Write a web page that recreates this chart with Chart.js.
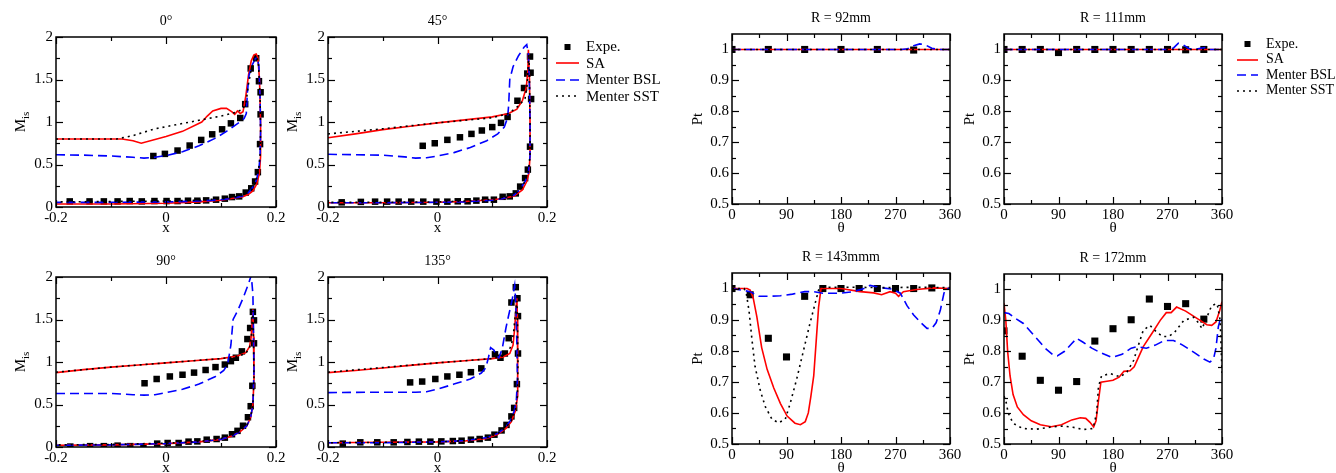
<!DOCTYPE html>
<html lang="en">
<head>
<meta charset="UTF-8">
<title>Mis and Pt distributions</title>
<script src="https://cdn.jsdelivr.net/npm/chart.js"></script>
<style>
    body {
        margin: 0;
        width: 1336px;
        height: 473px;
        overflow: hidden;
        background: #fff;
        position: relative;
        font-family: 'Liberation Serif', 'DejaVu Serif', serif;
    }
    .panel { position: absolute; }
    .legend { position: absolute; color: #000; }
    .legend .row { position: absolute; left: 0; white-space: nowrap; }
    .legend svg { position: absolute; left: 0; }
    .legend span { position: absolute; }
</style>
</head>
<body>
<script>
// ---- axis ticks ----
const xTicksM = [-0.2, 0, 0.2];
const xMinorM = [-0.1, 0.1];
const yTicksM = [0, 0.5, 1, 1.5, 2];
const yMinorM = [0.25, 0.75, 1.25, 1.75];
const thetaTicks = [0, 90, 180, 270, 360];
const thetaMinor = [45, 135, 225, 315];
const ptTicks = [0.5, 0.6, 0.7, 0.8, 0.9, 1];
const ptMinor = [0.55, 0.65, 0.75, 0.85, 0.95];

const seriesNames = ['Expe.', 'SA', 'Menter BSL', 'Menter SST'];

// ---- Mis, 0 deg ----
const m0Expe = [[-0.023,0.60],[-0.002,0.625],[0.021,0.664],[0.043,0.723],[0.064,0.789],[0.084,0.855],[0.102,0.914],[0.118,0.984],[0.135,1.047],[0.144,1.21],[0.154,1.63],[0.164,1.75],[0.169,1.48],[0.172,1.35],[0.172,1.09],[0.171,0.74],[0.167,0.41],[0.162,0.30],[0.155,0.22],[0.145,0.17],[0.133,0.125],[0.120,0.117],[0.107,0.098],[0.091,0.086],[0.073,0.078],[0.057,0.074],[0.040,0.074],[0.021,0.07],[0.001,0.07],[-0.021,0.07],[-0.044,0.066],[-0.066,0.07],[-0.088,0.066],[-0.113,0.066],[-0.139,0.066],[-0.175,0.066]];
const m0SA = [[-0.2,0.80],[-0.08,0.80],[-0.06,0.78],[-0.045,0.75],[0.0,0.83],[0.03,0.89],[0.065,1.0],[0.075,1.07],[0.085,1.13],[0.1,1.16],[0.11,1.16],[0.12,1.12],[0.125,1.09],[0.13,1.13],[0.135,1.10],[0.14,1.12],[0.145,1.3],[0.15,1.55],[0.155,1.72],[0.16,1.79],[0.164,1.80],[0.167,1.76],[0.17,1.5],[0.172,1.0],[0.172,0.6],[0.17,0.4],[0.165,0.27],[0.158,0.19],[0.15,0.15],[0.14,0.12],[0.12,0.1],[0.1,0.08],[0.06,0.06],[0.0,0.045],[-0.1,0.035],[-0.2,0.035]];
const m0BSL = [[-0.2,0.615],[-0.15,0.61],[-0.1,0.6],[-0.06,0.585],[-0.04,0.575],[-0.02,0.585],[0.0,0.605],[0.03,0.65],[0.06,0.72],[0.09,0.81],[0.11,0.89],[0.13,0.98],[0.142,1.04],[0.146,1.1],[0.148,1.35],[0.151,1.55],[0.156,1.66],[0.162,1.74],[0.166,1.76],[0.169,1.65],[0.171,1.3],[0.172,0.9],[0.171,0.6],[0.169,0.45],[0.165,0.33],[0.16,0.25],[0.15,0.17],[0.14,0.13],[0.12,0.1],[0.1,0.085],[0.06,0.07],[0.0,0.06],[-0.1,0.055],[-0.2,0.055]];
const m0SST = [[-0.2,0.80],[-0.09,0.80],[-0.06,0.84],[-0.02,0.92],[0.02,0.97],[0.06,1.02],[0.1,1.07],[0.125,1.11],[0.14,1.15],[0.146,1.25],[0.15,1.45],[0.155,1.62],[0.161,1.74],[0.165,1.76],[0.168,1.7],[0.171,1.3],[0.172,0.9],[0.171,0.6],[0.168,0.42],[0.163,0.3],[0.155,0.2],[0.14,0.14],[0.12,0.11],[0.1,0.095],[0.05,0.08],[0.0,0.07],[-0.1,0.065],[-0.2,0.06]];

// ---- Mis, 45 deg ----
const m45Expe = [[-0.027,0.72],[-0.005,0.75],[0.018,0.79],[0.041,0.82],[0.062,0.86],[0.081,0.90],[0.10,0.94],[0.116,0.99],[0.128,1.06],[0.146,1.25],[0.158,1.40],[0.164,1.57],[0.169,1.77],[0.17,1.58],[0.171,1.27],[0.169,0.71],[0.165,0.44],[0.16,0.34],[0.151,0.24],[0.143,0.16],[0.132,0.125],[0.119,0.12],[0.103,0.086],[0.087,0.086],[0.071,0.075],[0.055,0.067],[0.037,0.067],[0.018,0.063],[-0.002,0.063],[-0.026,0.063],[-0.048,0.063],[-0.071,0.063],[-0.092,0.063],[-0.114,0.063],[-0.14,0.06],[-0.175,0.055]];
const m45SA = [[-0.2,0.815],[-0.15,0.86],[-0.1,0.91],[-0.05,0.95],[0.0,0.99],[0.05,1.025],[0.1,1.06],[0.13,1.1],[0.145,1.15],[0.155,1.25],[0.162,1.4],[0.165,1.6],[0.166,1.85],[0.168,1.5],[0.169,1.0],[0.169,0.6],[0.167,0.4],[0.163,0.3],[0.155,0.2],[0.14,0.13],[0.12,0.1],[0.1,0.085],[0.05,0.065],[0.0,0.055],[-0.1,0.05],[-0.2,0.05]];
const m45BSL = [[-0.2,0.62],[-0.1,0.61],[-0.06,0.59],[-0.04,0.575],[-0.02,0.58],[0.0,0.6],[0.03,0.64],[0.06,0.7],[0.09,0.78],[0.11,0.86],[0.122,0.94],[0.128,1.05],[0.13,1.2],[0.132,1.5],[0.138,1.65],[0.148,1.78],[0.158,1.88],[0.163,1.91],[0.166,1.8],[0.168,1.4],[0.169,1.0],[0.169,0.6],[0.166,0.4],[0.16,0.3],[0.15,0.2],[0.14,0.14],[0.12,0.1],[0.1,0.08],[0.05,0.06],[0.0,0.055],[-0.1,0.05],[-0.2,0.05]];
const m45SST = [[-0.2,0.86],[-0.15,0.89],[-0.1,0.92],[-0.05,0.955],[0.0,0.99],[0.05,1.02],[0.1,1.05],[0.13,1.1],[0.15,1.2],[0.16,1.28],[0.164,1.45],[0.166,1.7],[0.167,1.8],[0.168,1.5],[0.169,1.0],[0.169,0.6],[0.166,0.42],[0.16,0.3],[0.15,0.2],[0.14,0.14],[0.12,0.105],[0.1,0.09],[0.05,0.07],[0.0,0.06],[-0.1,0.055],[-0.2,0.055]];

// ---- Mis, 90 deg ----
const m90Expe = [[-0.039,0.75],[-0.017,0.80],[0.007,0.83],[0.03,0.85],[0.051,0.875],[0.072,0.906],[0.09,0.94],[0.107,0.97],[0.118,1.01],[0.127,1.05],[0.138,1.125],[0.148,1.27],[0.153,1.40],[0.158,1.59],[0.16,1.49],[0.16,1.22],[0.157,0.72],[0.154,0.48],[0.149,0.35],[0.14,0.25],[0.13,0.19],[0.12,0.15],[0.107,0.11],[0.092,0.094],[0.074,0.086],[0.057,0.066],[0.041,0.063],[0.023,0.047],[0.003,0.047],[-0.016,0.04],[-0.041,0.005],[-0.065,0.01],[-0.088,0.016],[-0.113,0.01],[-0.138,0.01],[-0.174,0.005]];
const m90SA = [[-0.2,0.875],[-0.15,0.91],[-0.1,0.94],[-0.05,0.965],[0.0,0.99],[0.05,1.015],[0.1,1.04],[0.13,1.07],[0.145,1.11],[0.152,1.18],[0.155,1.3],[0.157,1.5],[0.158,1.62],[0.159,1.3],[0.16,0.8],[0.158,0.5],[0.154,0.35],[0.147,0.25],[0.135,0.18],[0.12,0.13],[0.1,0.09],[0.06,0.06],[0.0,0.04],[-0.1,0.025],[-0.2,0.02]];
const m90BSL = [[-0.2,0.63],[-0.1,0.63],[-0.06,0.615],[-0.04,0.61],[-0.02,0.615],[0.0,0.64],[0.03,0.68],[0.06,0.74],[0.09,0.83],[0.105,0.9],[0.112,0.97],[0.118,1.2],[0.122,1.5],[0.13,1.6],[0.14,1.75],[0.15,1.92],[0.155,2.02],[0.158,1.8],[0.159,1.4],[0.16,0.9],[0.158,0.5],[0.154,0.35],[0.147,0.25],[0.135,0.18],[0.12,0.13],[0.1,0.09],[0.06,0.06],[0.0,0.04],[-0.1,0.025],[-0.2,0.02]];
const m90SST = [[-0.2,0.88],[-0.1,0.94],[0.0,0.99],[0.1,1.04],[0.13,1.065],[0.145,1.1],[0.152,1.17],[0.155,1.3],[0.157,1.5],[0.158,1.6],[0.159,1.3],[0.16,0.8],[0.158,0.5],[0.154,0.36],[0.147,0.26],[0.135,0.19],[0.12,0.14],[0.1,0.1],[0.06,0.065],[0.0,0.045],[-0.1,0.03],[-0.2,0.025]];

// ---- Mis, 135 deg ----
const m135Expe = [[-0.05,0.76],[-0.028,0.77],[-0.004,0.80],[0.018,0.83],[0.04,0.85],[0.061,0.88],[0.08,0.925],[0.105,1.09],[0.115,1.05],[0.123,1.10],[0.13,1.28],[0.135,1.70],[0.143,1.88],[0.146,1.75],[0.147,1.54],[0.147,1.10],[0.145,0.74],[0.14,0.46],[0.135,0.36],[0.126,0.26],[0.117,0.195],[0.104,0.145],[0.092,0.11],[0.077,0.094],[0.061,0.086],[0.044,0.074],[0.028,0.07],[0.007,0.066],[-0.013,0.063],[-0.034,0.063],[-0.055,0.059],[-0.08,0.055],[-0.11,0.055],[-0.141,0.055],[-0.173,0.04]];
const m135SA = [[-0.2,0.875],[-0.15,0.9],[-0.1,0.93],[-0.05,0.96],[0.0,0.99],[0.05,1.015],[0.1,1.04],[0.12,1.06],[0.132,1.1],[0.138,1.2],[0.141,1.4],[0.143,1.6],[0.145,1.75],[0.146,1.5],[0.147,1.0],[0.146,0.6],[0.142,0.42],[0.135,0.3],[0.125,0.22],[0.11,0.15],[0.09,0.1],[0.05,0.07],[0.0,0.06],[-0.1,0.055],[-0.2,0.05]];
const m135BSL = [[-0.2,0.64],[-0.1,0.645],[-0.04,0.645],[-0.02,0.65],[0.0,0.68],[0.03,0.74],[0.06,0.8],[0.08,0.87],[0.088,0.93],[0.093,1.05],[0.097,1.17],[0.103,1.14],[0.108,1.07],[0.112,1.05],[0.118,1.15],[0.125,1.4],[0.13,1.55],[0.136,1.72],[0.141,1.9],[0.143,1.7],[0.145,1.2],[0.146,0.8],[0.144,0.55],[0.14,0.42],[0.133,0.31],[0.124,0.23],[0.11,0.16],[0.09,0.11],[0.05,0.075],[0.0,0.06],[-0.1,0.05],[-0.2,0.05]];
const m135SST = [[-0.2,0.88],[-0.1,0.935],[0.0,0.99],[0.1,1.04],[0.12,1.07],[0.13,1.13],[0.135,1.2],[0.139,1.35],[0.142,1.55],[0.145,1.72],[0.146,1.5],[0.147,1.0],[0.146,0.6],[0.142,0.43],[0.135,0.31],[0.125,0.23],[0.11,0.16],[0.09,0.11],[0.05,0.075],[0.0,0.06],[-0.1,0.055],[-0.2,0.05]];

// ---- Pt, R = 92mm ----
const r92Expe = [[0,1],[60,1],[120,1],[180,1],[240,1],[300,0.998]];
const r92SA = [[0,1],[90,1],[180,1],[270,1],[360,1]];
const r92BSL = [[0,1],[280,1],[290,1.002],[300,1.012],[310,1.018],[320,1.014],[330,1.004],[340,1],[360,1]];
const r92SST = [[0,1],[90,1],[180,1],[270,1],[360,1]];

// ---- Pt, R = 111mm ----
const r111Expe = [[0,1],[30,1],[60,1],[90,0.99],[120,1],[150,1],[180,1],[210,1],[240,1],[270,1],[300,0.999],[330,1]];
const r111SA = [[0,1],[90,1],[180,1],[270,1],[360,1]];
const r111BSL = [[0,1],[270,1],[280,1.005],[288,1.02],[296,1.015],[305,1.003],[315,1],[325,1.004],[332,1.006],[340,1],[360,1]];
const r111SST = [[0,1],[90,1],[180,1],[270,1],[360,1]];

// ---- Pt, R = 143mm ----
const r143Expe = [[0,1],[30,0.98],[60,0.84],[90,0.78],[120,0.975],[150,1],[180,1],[210,1],[240,1],[270,1],[300,1],[330,1.002]];
const r143SA = [[0,1],[25,1],[30,0.995],[35,0.97],[41,0.91],[49,0.81],[58,0.74],[69,0.68],[80,0.63],[91,0.59],[104,0.567],[113,0.562],[121,0.572],[126,0.6],[130,0.65],[135,0.72],[139,0.83],[143,0.94],[147,1],[180,1],[212,0.99],[234,0.986],[247,0.98],[261,0.99],[270,0.985],[275,0.975],[283,0.99],[305,0.997],[333,1.002],[360,1]];
const r143BSL = [[0,1],[15,0.995],[30,0.99],[44,0.975],[60,0.975],[80,0.977],[100,0.982],[120,0.99],[135,0.99],[150,0.985],[180,0.985],[200,0.99],[218,1],[228,1.01],[245,1.003],[265,0.998],[278,0.985],[289,0.945],[300,0.915],[312,0.89],[322,0.872],[330,0.872],[337,0.89],[344,0.93],[350,0.985],[354,1],[360,1]];
const r143SST = [[0,1],[20,1],[24,0.98],[28,0.93],[33,0.835],[38,0.75],[47,0.67],[55,0.62],[66,0.58],[77,0.568],[88,0.58],[96,0.63],[107,0.71],[118,0.80],[129,0.89],[137,0.95],[143,0.995],[150,1.004],[200,1.004],[250,1.003],[300,1.004],[360,1.003]];

// ---- Pt, R = 172mm ----
const r172Expe = [[0,0.866],[30,0.784],[60,0.706],[90,0.674],[120,0.702],[150,0.833],[180,0.873],[210,0.902],[240,0.969],[270,0.945],[300,0.954],[330,0.904]];
const r172SA = [[0,0.955],[3,0.9],[6,0.8],[10,0.72],[15,0.66],[22,0.62],[32,0.595],[45,0.575],[60,0.562],[78,0.556],[95,0.562],[112,0.578],[126,0.585],[135,0.583],[142,0.57],[148,0.555],[152,0.575],[156,0.64],[160,0.7],[170,0.703],[180,0.706],[190,0.716],[198,0.735],[208,0.737],[215,0.75],[222,0.78],[230,0.815],[245,0.86],[258,0.9],[268,0.925],[276,0.925],[285,0.943],[300,0.93],[320,0.905],[335,0.886],[343,0.884],[350,0.895],[356,0.93],[360,0.96]];
const r172BSL = [[0,0.925],[8,0.922],[20,0.905],[32,0.89],[50,0.85],[68,0.81],[80,0.79],[88,0.785],[100,0.8],[112,0.825],[120,0.842],[130,0.83],[145,0.81],[160,0.795],[178,0.78],[195,0.79],[210,0.81],[220,0.815],[235,0.81],[250,0.82],[265,0.835],[280,0.835],[295,0.82],[315,0.795],[330,0.775],[340,0.765],[346,0.775],[350,0.81],[354,0.88],[358,0.91],[360,0.9]];
const r172SST = [[0,0.655],[3,0.64],[7,0.6],[15,0.567],[31,0.55],[54,0.548],[81,0.556],[98,0.558],[114,0.554],[131,0.547],[147,0.55],[153,0.6],[156,0.685],[161,0.72],[175,0.728],[192,0.717],[203,0.733],[214,0.77],[222,0.82],[230,0.868],[241,0.884],[252,0.862],[262,0.848],[272,0.848],[282,0.862],[297,0.9],[313,0.91],[322,0.89],[327,0.873],[335,0.91],[343,0.948],[352,0.954],[357,0.9],[360,0.73]];

// ---- layout ----
const FONT = "'Liberation Serif', 'DejaVu Serif', serif";
const ML = 50, MT = 35, MR = 18, MB = 34;

const panels = [
    { box: [56, 37, 276, 207],  kind: 'M', title: '0°',   sets: [m0Expe, m0SA, m0BSL, m0SST] },
    { box: [328, 37, 547, 207], kind: 'M', title: '45°',  sets: [m45Expe, m45SA, m45BSL, m45SST] },
    { box: [56, 277, 276, 447], kind: 'M', title: '90°',  sets: [m90Expe, m90SA, m90BSL, m90SST] },
    { box: [328, 277, 547, 447],kind: 'M', title: '135°', sets: [m135Expe, m135SA, m135BSL, m135SST] },
    { box: [732, 34, 950, 204], kind: 'P', title: 'R = 92mm',   sets: [r92Expe, r92SA, r92BSL, r92SST] },
    { box: [1004, 34, 1222, 204], kind: 'P', title: 'R = 111mm', sets: [r111Expe, r111SA, r111BSL, r111SST] },
    { box: [732, 273, 950, 444], kind: 'P', title: 'R = 143mmm', sets: [r143Expe, r143SA, r143BSL, r143SST] },
    { box: [1004, 274, 1222, 444], kind: 'P', title: 'R = 172mm', sets: [r172Expe, r172SA, r172BSL, r172SST] }
];

const styles = {
    SA:  { color: '#ff0000', dash: [] },
    BSL: { color: '#0000ff', dash: [9, 5] },
    SST: { color: '#000000', dash: [2, 4] }
};

// frame, inward ticks, titles drawn on top of each panel
const framePlugin = {
    id: 'frame',
    afterDraw(chart, args, o) {
        const { ctx, chartArea: a } = chart;
        const xs = chart.scales.x, ys = chart.scales.y;
        ctx.save();
        ctx.strokeStyle = '#000';
        ctx.lineWidth = 1.5;
        ctx.strokeRect(a.left, a.top, a.right - a.left, a.bottom - a.top);
        ctx.lineWidth = 1.2;
        const seg = (x1, y1, x2, y2) => { ctx.beginPath(); ctx.moveTo(x1, y1); ctx.lineTo(x2, y2); ctx.stroke(); };
        const xt = (vals, len) => vals.forEach(v => {
            const p = Math.round(xs.getPixelForValue(v)) + 0.5;
            seg(p, a.bottom, p, a.bottom - len);
            seg(p, a.top, p, a.top + len);
        });
        const yt = (vals, len) => vals.forEach(v => {
            const p = Math.round(ys.getPixelForValue(v)) + 0.5;
            seg(a.left, p, a.left + len, p);
            seg(a.right, p, a.right - len, p);
        });
        xt(o.xMajor, 7); xt(o.xMinor, 4);
        yt(o.yMajor, 7); yt(o.yMinor, 4);

        ctx.fillStyle = '#000';
        ctx.textAlign = 'center';
        ctx.textBaseline = 'alphabetic';
        ctx.font = '14px ' + FONT;
        ctx.fillText(o.title, (a.left + a.right) / 2, a.top - 12);
        ctx.font = '15px ' + FONT;
        ctx.fillText(o.xTitle, (a.left + a.right) / 2, a.bottom + o.xTitleOff);

        // rotated y title, with optional subscript
        ctx.translate(a.left - o.yTitleOff, (a.top + a.bottom) / 2);
        ctx.rotate(-Math.PI / 2);
        ctx.textAlign = 'left';
        ctx.textBaseline = 'middle';
        ctx.font = '15px ' + FONT;
        const w1 = ctx.measureText(o.yTitle).width;
        ctx.font = '11px ' + FONT;
        const w2 = o.ySub ? ctx.measureText(o.ySub).width : 0;
        const x0 = -(w1 + w2) / 2;
        ctx.font = '15px ' + FONT;
        ctx.fillText(o.yTitle, x0, 0);
        if (o.ySub) {
            ctx.font = '11px ' + FONT;
            ctx.fillText(o.ySub, x0 + w1, 5);
        }
        ctx.restore();
    }
};

function toXY(pts) {
    return pts.map(([x, y]) => ({ x, y }));
}

function lineSet(label, pts, st) {
    return {
        label, data: toXY(pts), showLine: true,
        borderColor: st.color, borderWidth: 1.6, borderDash: st.dash,
        pointRadius: 0, fill: false, tension: 0
    };
}

function makePanel(p) {
    const [L, T, R, B] = p.box;
    const w = R - L + ML + MR;
    const h = B - T + MT + MB;
    const div = document.createElement('div');
    div.className = 'panel';
    div.style.left = (L - ML) + 'px';
    div.style.top = (T - MT) + 'px';
    div.style.width = w + 'px';
    div.style.height = h + 'px';
    const canvas = document.createElement('canvas');
    canvas.width = w;
    canvas.height = h;
    canvas.style.width = w + 'px';
    canvas.style.height = h + 'px';
    div.appendChild(canvas);
    document.body.appendChild(div);

    const isM = p.kind === 'M';
    const xMajor = isM ? xTicksM : thetaTicks;
    const yMajor = isM ? yTicksM : ptTicks;
    const [expe, sa, bsl, sst] = p.sets;

    new Chart(canvas, {
        type: 'scatter',
        data: {
            datasets: [
                lineSet(seriesNames[3], sst, styles.SST),
                lineSet(seriesNames[2], bsl, styles.BSL),
                lineSet(seriesNames[1], sa, styles.SA),
                {
                    label: seriesNames[0], data: toXY(expe), showLine: false,
                    pointStyle: 'rect', pointRadius: isM ? 4.6 : 5,
                    backgroundColor: '#000', borderColor: '#000', borderWidth: 0
                }
            ]
        },
        options: {
            responsive: false,
            devicePixelRatio: 1,
            animation: false,
            events: [],
            layout: { padding: { left: 0, top: MT, right: MR, bottom: 0 } },
            plugins: {
                legend: { display: false },
                title: { display: false },
                tooltip: { enabled: false },
                frame: {
                    title: p.title,
                    xTitle: isM ? 'x' : 'θ',
                    xTitleOff: isM ? 25 : 28,
                    yTitle: isM ? 'M' : 'Pt',
                    ySub: isM ? 'is' : '',
                    yTitleOff: isM ? 35 : 34,
                    xMajor, xMinor: isM ? xMinorM : thetaMinor,
                    yMajor, yMinor: isM ? yMinorM : ptMinor
                }
            },
            scales: {
                x: {
                    type: 'linear',
                    min: isM ? -0.2 : 0,
                    max: isM ? 0.2 : 360,
                    grid: { display: false, drawTicks: false },
                    border: { display: false },
                    afterBuildTicks: s => { s.ticks = xMajor.map(v => ({ value: v })); },
                    afterFit: s => { s.height = MB; },
                    ticks: {
                        autoSkip: false, maxRotation: 0, padding: 2, color: '#000',
                        font: { family: FONT, size: 15 },
                        callback: v => String(v)
                    }
                },
                y: {
                    type: 'linear',
                    min: isM ? 0 : 0.5,
                    max: isM ? 2 : 1.05,
                    grid: { display: false, drawTicks: false },
                    border: { display: false },
                    afterBuildTicks: s => { s.ticks = yMajor.map(v => ({ value: v })); },
                    afterFit: s => { s.width = ML; },
                    ticks: {
                        autoSkip: false, padding: 3, color: '#000',
                        font: { family: FONT, size: 15 },
                        callback: v => String(v)
                    }
                }
            }
        },
        plugins: [framePlugin]
    });
}

function makeLegend(left, top, step, symW, textX, size) {
    const box = document.createElement('div');
    box.className = 'legend';
    box.style.left = left + 'px';
    box.style.top = top + 'px';
    box.style.fontSize = size + 'px';
    const lineStyle = [null, styles.SA, styles.BSL, styles.SST];
    seriesNames.forEach((name, i) => {
        const row = document.createElement('div');
        row.className = 'row';
        row.style.top = (i * step) + 'px';
        let sym;
        if (i === 0) {
            const c = symW / 2;
            sym = `<rect x="${c - 3}" y="2" width="6" height="6" fill="#000"/>`;
        } else {
            const st = lineStyle[i];
            sym = `<line x1="0" y1="5" x2="${symW}" y2="5" stroke="${st.color}" stroke-width="1.6" stroke-dasharray="${st.dash.join(' ')}"/>`;
        }
        row.innerHTML = `<svg width="${symW}" height="10" style="top:-5px">${sym}</svg>` +
            `<span style="left:${textX}px; top:${-size * 0.58}px">${name}</span>`;
        box.appendChild(row);
    });
    document.body.appendChild(box);
}

panels.forEach(makePanel);
makeLegend(556, 47, 16.4, 23, 30, 15);
makeLegend(1237, 44, 15.5, 21, 29, 14);
</script>
</body>
</html>
